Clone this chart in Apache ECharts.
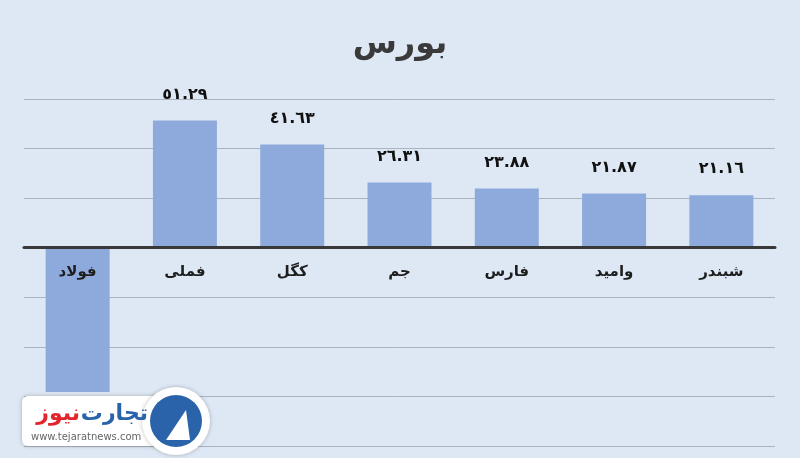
<!DOCTYPE html>
<html>
<head>
<meta charset="utf-8">
<script src="https://cdn.jsdelivr.net/npm/echarts@6/dist/echarts.min.js"></script>
<style>
html,body{margin:0;padding:0;background:#dee8f4;}
#c{width:800px;height:458px;}
</style>
</head>
<body>
<div id="c"></div>
<script>
var titleText = 'بورس';
var categories = ['فولاد', 'فملی', 'کگل', 'جم', 'فارس', 'وامید', 'شبندر'];
var values = [-58.2, 51.29, 41.63, 26.31, 23.88, 21.87, 21.16];
var yMin = -80, yMax = 60, yStep = 20;

function toArabicDigits(s) {
  var d = ['٠','١','٢','٣','٤','٥','٦','٧','٨','٩'];
  return String(s).replace(/[0-9]/g, function (c) { return d[+c]; });
}

var chart = echarts.init(document.getElementById('c'));
chart.setOption({
  backgroundColor: '#dee8f4',
  animation: false,
  title: {
    text: titleText,
    left: 'center',
    top: 24,
    textStyle: { fontFamily: 'DejaVu Sans', fontSize: 32, fontWeight: 'bold', color: '#3a3a3a' }
  },
  grid: { left: 24, right: 25, top: 99, bottom: 12, containLabel: false, outerBoundsMode: 'none' },
  xAxis: {
    type: 'category',
    data: categories,
    axisLine: { onZero: true, lineStyle: { color: '#383838', width: 3 } },
    axisTick: { show: false },
    axisLabel: { show: false },
    z: 10
  },
  yAxis: {
    type: 'value',
    min: yMin, max: yMax, interval: yStep,
    axisLine: { show: false },
    axisTick: { show: false },
    axisLabel: { show: false },
    splitLine: { lineStyle: { color: '#aab4c0', width: 1 } }
  },
  series: [{
    type: 'bar',
    data: values.map(function (v, i) {
      return i === 0 ? { value: v, label: { show: false } } : v;
    }),
    barWidth: 64,
    itemStyle: { color: '#8eaadc' },
    label: {
      show: true,
      position: 'top',
      distance: 18,
      fontFamily: 'DejaVu Sans',
      fontSize: 16,
      fontWeight: 'bold',
      color: '#111',
      formatter: function (p) { return toArabicDigits(p.value.toFixed(2)); }
    }
  }, {
    type: 'scatter',
    data: categories.map(function (c) { return [c, 0]; }),
    symbolSize: 0,
    z: 20,
    silent: true,
    itemStyle: { opacity: 1 },
    label: {
      show: true,
      position: 'bottom',
      distance: 17,
      fontFamily: 'DejaVu Sans',
      fontSize: 15,
      fontWeight: 'bold',
      color: '#1e1e1e',
      opacity: 1,
      formatter: function (p) { return p.value[0]; }
    }
  }],
  graphic: [
    { type: 'rect', shape: { x: 22, y: 396, width: 170, height: 50, r: 6 }, style: { fill: '#ffffff', shadowBlur: 4, shadowColor: 'rgba(0,0,0,0.25)' }, z: 100 },
    { type: 'circle', shape: { cx: 176, cy: 421, r: 34 }, style: { fill: '#ffffff', shadowBlur: 4, shadowColor: 'rgba(0,0,0,0.25)' }, z: 100 },
    { type: 'circle', shape: { cx: 176, cy: 421, r: 26 }, style: { fill: '#2a63aa' }, z: 101 },
    { type: 'polygon', shape: { points: [[166, 440], [186, 410], [190, 440]] }, style: { fill: '#ffffff' }, z: 102 },
    { type: 'text', x: 148, y: 414, style: { text: 'تجارت', fontFamily: 'DejaVu Sans', fontWeight: 'bold', fontSize: 22, fill: '#2a63aa', align: 'right', verticalAlign: 'middle' }, z: 102 },
    { type: 'text', x: 80, y: 414, style: { text: 'نیوز', fontFamily: 'DejaVu Sans', fontWeight: 'bold', fontSize: 22, fill: '#e2262e', align: 'right', verticalAlign: 'middle' }, z: 102 },
    { type: 'text', x: 31, y: 437, style: { text: 'www.tejaratnews.com', fontFamily: 'DejaVu Sans', fontSize: 10, fill: '#666', align: 'left', verticalAlign: 'middle' }, z: 102 }
  ]
});
</script>
</body>
</html>
